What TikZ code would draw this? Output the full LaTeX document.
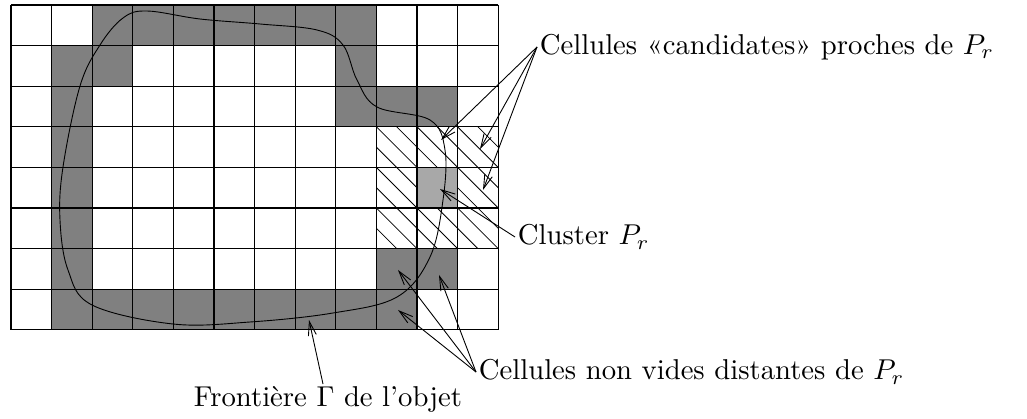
\documentclass[tikz,border=0pt]{standalone}
\usetikzlibrary{arrows.meta,calc}
\definecolor{fullgray}{RGB}{128,128,128}
\definecolor{clustergray}{RGB}{168,168,168}
\begin{document}
\begin{tikzpicture}[x=1pt,y=-1pt,
  gridline/.style={line width=1.1pt,black},
  hatchline/.style={line width=0.8pt,black},
  boundary/.style={line width=0.9pt,black},
  arr/.style={line width=0.9pt,-{Straight Barb[length=14pt,width=8pt]}},
  lbl/.style={font=\fontsize{10}{12}\selectfont,inner sep=0.8pt,scale=2.87,transform shape}]
\useasboundingbox (0,0) rectangle (1027,419);
\begin{scope}[shift={(11pt,-5pt)},x=40.6pt,y=-40.6pt]
  \foreach \c/\r in {2/0,3/0,4/0,5/0,6/0,7/0,8/0,
                     1/1,2/1,8/1,
                     1/2,8/2,9/2,10/2,
                     1/3,1/4,1/5,
                     1/6,9/6,10/6,
                     1/7,2/7,3/7,4/7,5/7,6/7,7/7,8/7,9/7}
    \fill[fullgray] (\c,\r) rectangle ++(1,1);
  \begin{scope}
    \clip (9,3) rectangle (12,6);
    \foreach \k in {-6,...,6}
      \draw[hatchline] (9+\k/2,3) -- ++(3,3);
  \end{scope}
  \fill[clustergray] (10,4) rectangle ++(1,1);
  \foreach \i in {0,...,12} \draw[gridline] (\i,0) -- (\i,8);
  \foreach \j in {0,...,8} \draw[gridline] (0,\j) -- (12,\j);
\end{scope}
\draw[boundary] plot[smooth cycle, tension=0.6] coordinates {
  (147,11) (200,19) (260,24) (317,30) (343,45) (357,80) (377,107)
  (430,120) (445,150) (443,200) (430,257) (397,297) (333,313)
  (250,322) (173,324) (92,305) (68,270) (60,220) (63,167)
  (80,86) (100,45) (123,18)};
% arrow tips
\coordinate (c1) at (441,140);
\coordinate (c2) at (480,149);
\coordinate (c3) at (483,190);
\coordinate (cl) at (440,189);
\coordinate (d1) at (398,270);
\coordinate (d2) at (439,275);
\coordinate (d3) at (398,310);
\coordinate (ft) at (309,320);
% labels
\node[lbl,anchor=west] (cand) at (537,47) {Cellules «candidates» proches de $P_r$};
\node[lbl,anchor=west] (clus) at (515,237) {Cluster $P_r$};
\node[lbl,anchor=west] (dist) at (476,372) {Cellules non vides distantes de $P_r$};
\node[lbl,anchor=north] (front) at (328,384) {Frontière $\Gamma$ de l'objet};
% arrows
\foreach \t in {c1,c2,c3} \draw[arr] (cand.west) -- (\t);
\draw[arr] (clus.west) -- (cl);
\foreach \t in {d1,d2,d3} \draw[arr] (dist.west) -- (\t);
\draw[arr] ([xshift=-5pt]front.north) -- (ft);
\end{tikzpicture}
\end{document}
